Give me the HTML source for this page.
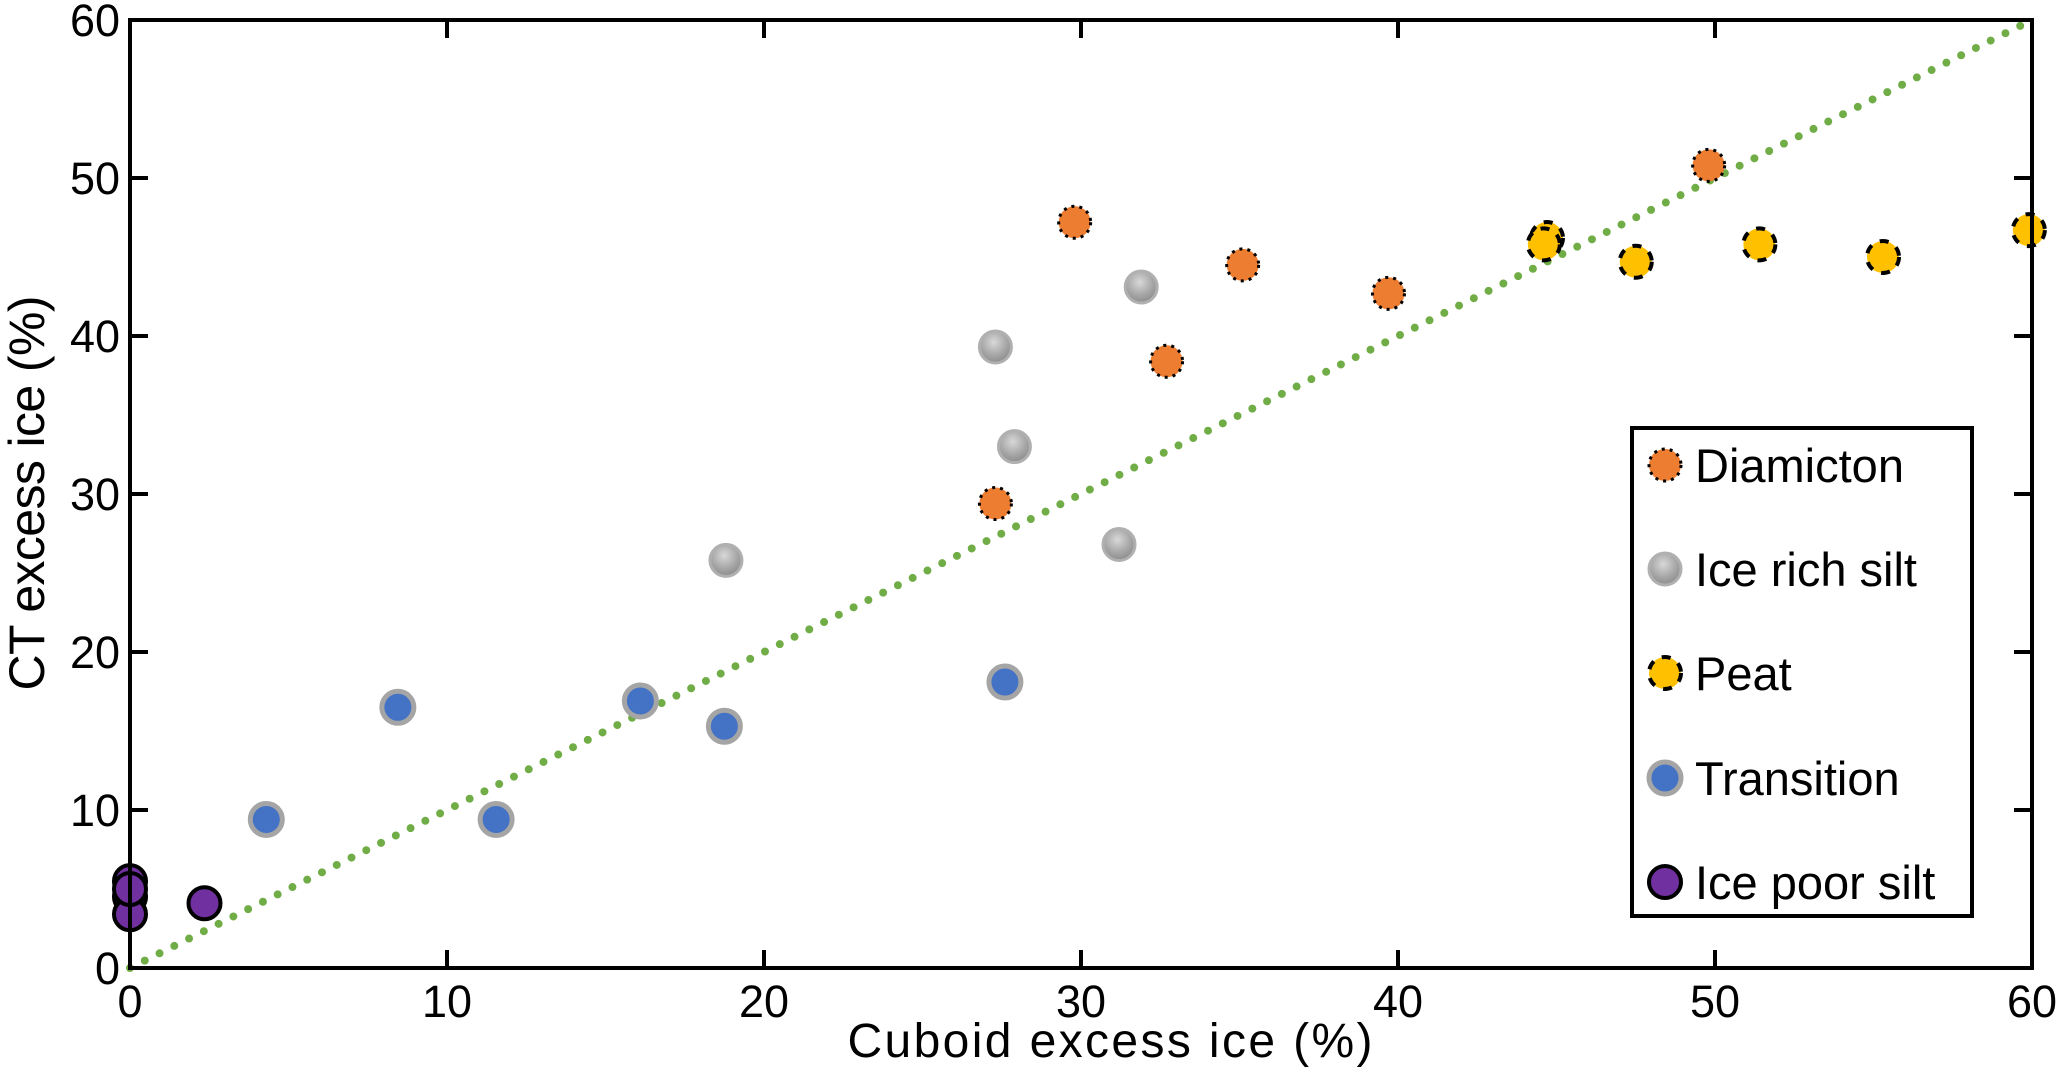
<!DOCTYPE html>
<html><head><meta charset="utf-8"><style>
html,body{margin:0;padding:0;background:#fff}
svg{display:block;font-family:"Liberation Sans",sans-serif}
</style></head><body>
<svg id="chart" width="2060" height="1071" viewBox="0 0 2060 1071" xmlns="http://www.w3.org/2000/svg">
<defs>
<radialGradient id="gray" cx="45%" cy="35%" r="65%">
<stop offset="0" stop-color="#d8d8d8"/><stop offset="0.6" stop-color="#a8a8a8"/><stop offset="1" stop-color="#8c8c8c"/>
</radialGradient>
</defs>
<g id="plot"></g>
</svg>
<script>
const xTicks = [0,10,20,30,40,50,60];
const yTicks = [0,10,20,30,40,50,60];
const seriesNames = ["Diamicton","Ice rich silt","Peat","Transition","Ice poor silt"];
const diamictonX = [29.8,35.1,39.7,32.7,27.3,49.8];
const diamictonY = [47.2,44.5,42.7,38.4,29.4,50.8];
const iceRichX = [27.3,31.9,27.9,31.2,18.8];
const iceRichY = [39.3,43.1,33.0,26.8,25.8];
const peatX = [44.7,44.6,47.5,51.4,55.3,59.9];
const peatY = [46.2,45.8,44.7,45.8,45.0,46.7];
const transitionX = [8.45,4.3,11.55,16.1,18.75,27.6];
const transitionY = [16.5,9.4,9.4,16.9,15.3,18.1];
const icePoorX = [0,0,0,2.35,0];
const icePoorY = [5.5,4.5,3.4,4.1,5.0];

const NS="http://www.w3.org/2000/svg";
const X0=130,X1=2032,Y0=968,Y1=20;
const sx=v=>X0+(v-0)/60*(X1-X0);
const sy=v=>Y0-(v-0)/60*(Y0-Y1);
const g=document.getElementById('plot');
function mk(tag,attrs,parent){const e=document.createElementNS(NS,tag);for(const k in attrs)e.setAttribute(k,attrs[k]);(parent||g).appendChild(e);return e;}

const ln=mk('line',{x1:sx(0),y1:sy(0),x2:sx(60),y2:sy(60),stroke:'#70ad47','stroke-width':8,'stroke-linecap':'round','stroke-dasharray':'0 16.5'});



const styles={
 "Diamicton":{fill:'#ed7d31',stroke:'#000',sw:3,dash:'3 5'},
 "Ice rich silt":{fill:'url(#gray)',stroke:'#b0b0b0',sw:3,dash:null},
 "Peat":{fill:'#ffc000',stroke:'#000',sw:4,dash:'9 9'},
 "Transition":{fill:'#4472c4',stroke:'#a5a5a5',sw:5,dash:null},
 "Ice poor silt":{fill:'#7030a0',stroke:'#000',sw:4,dash:null}
};
function marker(x,y,name,r,parent){
 const s=styles[name];
 const c=mk('circle',{cx:x,cy:y,r:r,fill:s.fill,stroke:s.stroke,'stroke-width':s.sw},parent);
 if(s.dash)c.setAttribute('stroke-dasharray',s.dash);
 return c;
}
const data=[[diamictonX,diamictonY],[iceRichX,iceRichY],[peatX,peatY],[transitionX,transitionY],[icePoorX,icePoorY]];
const order=[1,3,4,0,2];
order.forEach(si=>{
 const [xs,ys]=data[si];
 xs.forEach((xv,i)=>{
  const c=marker(sx(xv),sy(ys[i]),seriesNames[si],16);
  
  
 });
});

const box=mk('rect',{x:X0,y:Y1,width:X1-X0,height:Y0-Y1,fill:'none',stroke:'#000','stroke-width':4});


xTicks.forEach(t=>{
 const x=sx(t);
 if(t>0&&t<60){mk('line',{x1:x,y1:Y0,x2:x,y2:Y0-18,stroke:'#000','stroke-width':4});mk('line',{x1:x,y1:Y1,x2:x,y2:Y1+18,stroke:'#000','stroke-width':4});}
 const tx=mk('text',{x:x,y:1017,'text-anchor':'middle','font-size':45,fill:'#000'});
 tx.textContent=t;
 
 
});
yTicks.forEach(t=>{
 const y=sy(t);
 if(t>0&&t<60){mk('line',{x1:X0,y1:y,x2:X0+18,y2:y,stroke:'#000','stroke-width':4});mk('line',{x1:X1,y1:y,x2:X1-18,y2:y,stroke:'#000','stroke-width':4});}
 const ty=mk('text',{x:120,y:y+16,'text-anchor':'end','font-size':45,fill:'#000'});
 ty.textContent=t;
 
 
});
const xt=mk('text',{x:1110,y:1057,'text-anchor':'middle','font-size':48,fill:'#000',textLength:525});
xt.textContent='Cuboid excess ice (%)';


const yt=mk('text',{x:0,y:0,'text-anchor':'middle','font-size':50,fill:'#000',textLength:395,transform:'translate(44,493) rotate(-90)'});
yt.textContent='CT excess ice (%)';



const lg=mk('g',{});


mk('rect',{x:1632,y:428,width:340,height:488,fill:'#fff',stroke:'#000','stroke-width':4},lg);
const ly=[465,569,673,778,882];
seriesNames.forEach((n,i)=>{
 const e=mk('g',{},lg);
 
 
 marker(1665,ly[i],n,16,e);
 const t=mk('text',{x:1695,y:ly[i]+17,'font-size':47,fill:'#000'},e);
 t.textContent=n;
});
</script>
</body></html>
